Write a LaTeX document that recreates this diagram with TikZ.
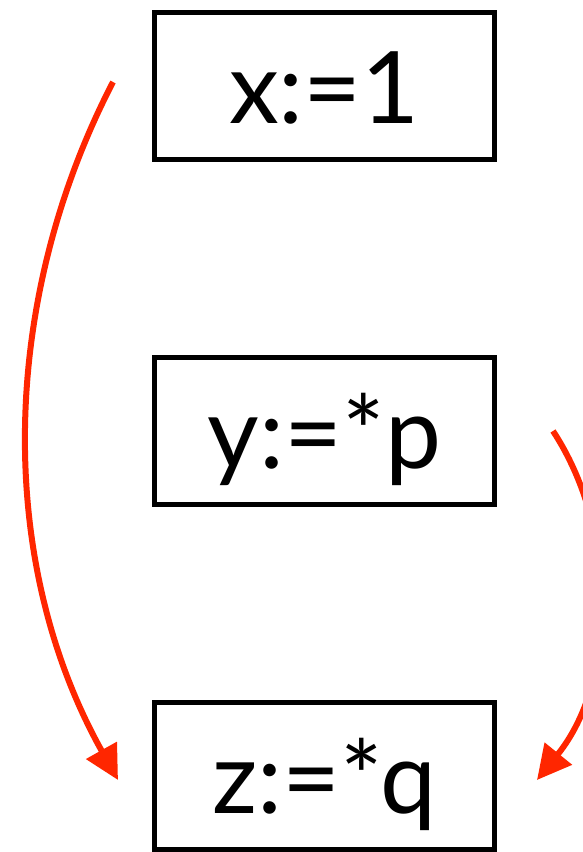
\documentclass[tikz,border=0pt]{standalone}
\usepackage{fontspec}
\setmainfont{Lato}
\usetikzlibrary{arrows.meta}
\definecolor{arrowred}{RGB}{255,38,0}
\begin{document}
\begin{tikzpicture}[x=1pt,y=-1pt,
  stmt/.style={draw=black,line width=4.5pt,minimum width=340pt,minimum height=147pt,
    inner sep=0pt,text height=74pt,text depth=0pt,font=\fontsize{100}{110}\selectfont},
  dep/.style={draw=arrowred,line width=6pt,-{Triangle[length=34pt,width=34pt]}}]
\useasboundingbox (0,0) rectangle (583,852);
\node[stmt] (x) at (324.5,86) {x:=1};
\node[stmt] (y) at (324.5,431) {y:=*p};
\node[stmt] (z) at (324.5,776) {z:=*q};
\coordinate (a1) at (113,82);
\coordinate (a2) at (118,780);
\coordinate (b1) at (553,431);
\coordinate (b2) at (537,780);
\draw[dep] (a1) .. controls (0,300) and (-5,560) .. (a2);
\draw[dep] (b1) .. controls (618,530) and (618,680) .. (b2);
\end{tikzpicture}
\end{document}
